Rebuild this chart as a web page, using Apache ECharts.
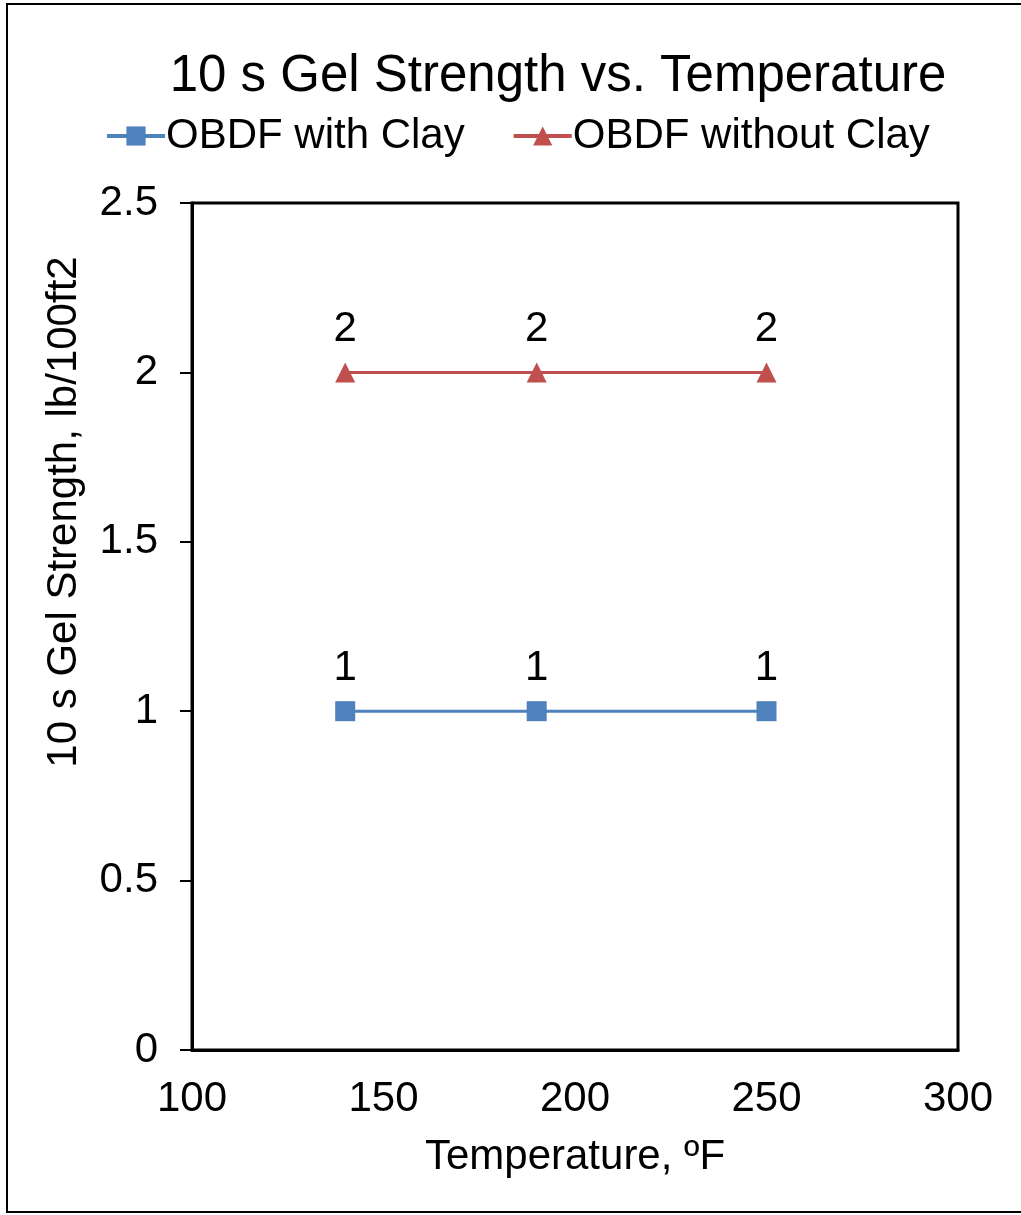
<!DOCTYPE html>
<html><head><meta charset="utf-8">
<script src="https://cdn.jsdelivr.net/npm/echarts@6/dist/echarts.min.js"></script>
<style>html,body{margin:0;padding:0;background:#fff}#c{width:1021px;height:1215px}</style>
</head><body><div id="c"></div>
<script>
const temperatures = [140, 190, 250];
const withClay = [1, 1, 1];
const withoutClay = [2, 2, 2];
const seriesNames = ['OBDF with Clay', 'OBDF without Clay'];
const xTicks = [100, 150, 200, 250, 300];
const yTicks = [0, 0.5, 1, 1.5, 2, 2.5];
const yAxisTitle = '10 s Gel Strength, lb/100ft2';

const font = 'Liberation Sans, Arial, sans-serif';
const chart = echarts.init(document.getElementById('c'), null, {renderer: 'canvas'});
const pairs = a => temperatures.map((t, i) => [t, a[i]]);
chart.setOption({
  animation: false,
  backgroundColor: '#fff',
  graphic: [
    {type: 'rect', shape: {x: 7, y: 4, width: 1040, height: 1208}, style: {fill: 'none', stroke: '#000', lineWidth: 2}, z: 100},
    {type: 'text', x: 64, y: 512, rotation: Math.PI / 2,
      style: {text: yAxisTitle, font: '42px ' + font, fill: '#000', align: 'center', verticalAlign: 'middle'}}
  ],
  title: {text: '10 s Gel Strength vs. Temperature', left: 553, top: 46, textAlign: 'center',
    textStyle: {fontFamily: font, fontSize: 51, fontWeight: 'normal', color: '#000'}},
  legend: {top: 110, left: 100, itemWidth: 58, itemHeight: 24, itemGap: 47,
    lineStyle: {width: 4},
    textStyle: {fontFamily: font, fontSize: 42, color: '#000', padding: [0, 0, 0, -4]},
    data: seriesNames},
  grid: {left: 192, top: 203, right: 63, bottom: 165, show: true, borderColor: '#000', borderWidth: 3, containLabel: false},
  xAxis: {type: 'value', min: xTicks[0], max: xTicks[xTicks.length - 1], interval: 50,
    name: 'Temperature, ºF', nameLocation: 'middle', nameGap: 86,
    nameTextStyle: {fontFamily: font, fontSize: 42, color: '#000'},
    axisLine: {show: true, lineStyle: {color: '#000', width: 3}},
    axisTick: {show: false}, splitLine: {show: false},
    axisLabel: {fontFamily: font, fontSize: 42, color: '#000', margin: 28}},
  yAxis: {type: 'value', min: yTicks[0], max: yTicks[yTicks.length - 1], interval: 0.5,
    axisLine: {show: true, lineStyle: {color: '#000', width: 3}},
    axisTick: {show: true, inside: false, length: 12, lineStyle: {color: '#000', width: 2}},
    splitLine: {show: false},
    axisLabel: {fontFamily: font, fontSize: 42, color: '#000', margin: 34}},
  series: [
    {name: seriesNames[0], type: 'line', data: pairs(withClay), symbol: 'rect', symbolSize: 20,
      color: '#4F81BD', lineStyle: {width: 3, color: '#4F81BD'}, itemStyle: {color: '#4F81BD'},
      label: {show: true, position: 'top', distance: 12, fontFamily: font, fontSize: 42, color: '#000'}},
    {name: seriesNames[1], type: 'line', data: pairs(withoutClay), symbol: 'triangle', symbolSize: 20,
      color: '#C0504D', lineStyle: {width: 3, color: '#C0504D'}, itemStyle: {color: '#C0504D'},
      label: {show: true, position: 'top', distance: 12, fontFamily: font, fontSize: 42, color: '#000'}}
  ]
});
</script></body></html>
